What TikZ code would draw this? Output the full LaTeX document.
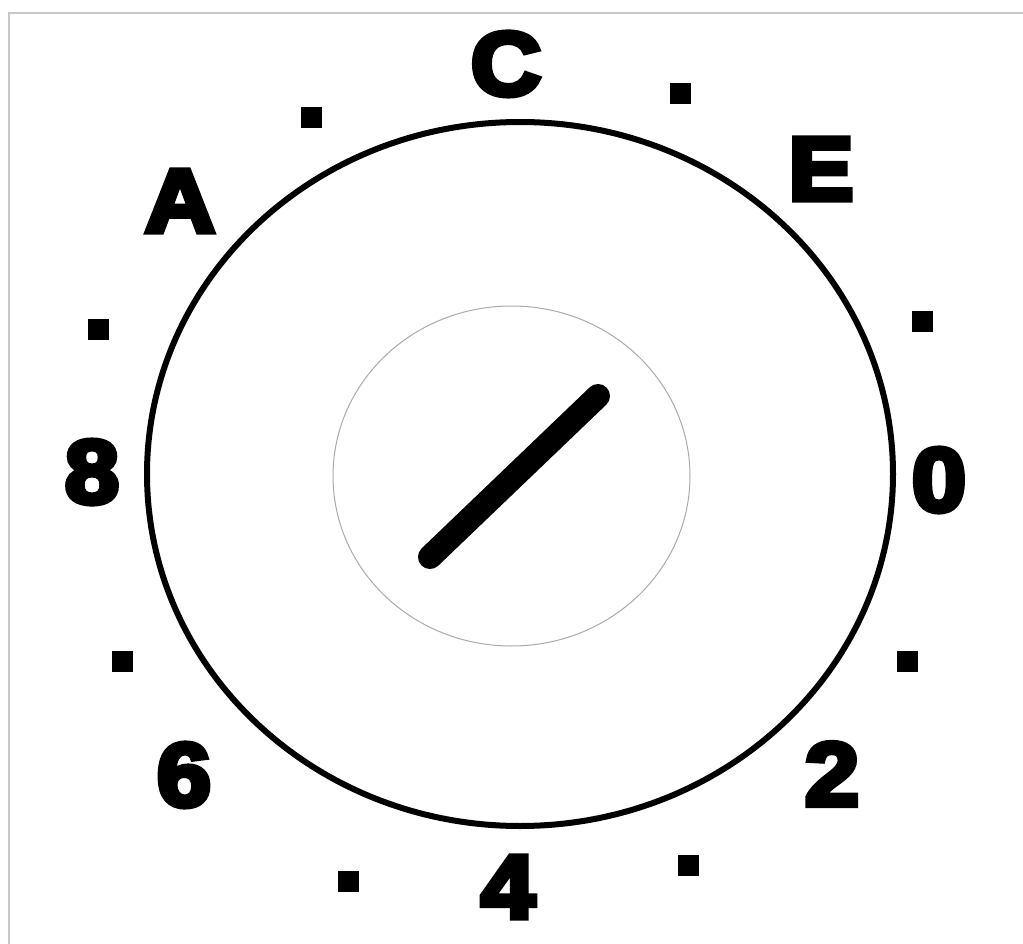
\documentclass[tikz,border=0pt]{standalone}
\usepackage{fontspec}
\newfontfamily\heavyfont[FakeBold=6]{Liberation Sans Bold}
\begin{document}
\begin{tikzpicture}[x=1pt,y=-1pt,
  lbl/.style={inner sep=0pt,xscale=1.08,transform shape,font=\heavyfont\fontsize{90}{90}\selectfont},
  tick/.style={fill=black,inner sep=0pt,minimum size=21pt,draw=none},
  frameline/.style={draw={rgb,255:red,200;green,200;blue,200},line width=2pt}]
\useasboundingbox (0,0) rectangle (1023,944);
\fill[white] (0,0) rectangle (1023,944);
\draw[frameline] (9,944) -- (9,13) -- (1023,13);
% dial
\draw[line width=6pt] (520,474) ellipse [x radius=373, y radius=352];
\draw[line width=1pt,draw={rgb,255:red,170;green,170;blue,170}] (511.5,476) ellipse [x radius=178.5, y radius=170];
% needle
\coordinate (n1) at (430,557);
\coordinate (n2) at (598,396);
\draw[line width=24pt,line cap=round] (n1) -- (n2);
% labels
\node[lbl] (lC) at (506,64) {C};
\node[lbl] (lE) at (821,169) {E};
\node[lbl] (l0) at (939,480) {0};
\node[lbl] (l2) at (832,774) {2};
\node[lbl] (l4) at (508,887) {4};
\node[lbl] (l6) at (184,775) {6};
\node[lbl] (l8) at (92,472) {8};
\node[lbl] (lA) at (180,201) {A};
% ticks
\node[tick] (t1) at (311,118) {};
\node[tick] (t2) at (680,94) {};
\node[tick] (t3) at (922,321) {};
\node[tick] (t4) at (907.5,661) {};
\node[tick] (t5) at (688.5,865) {};
\node[tick] (t6) at (348.5,881) {};
\node[tick] (t7) at (122,661) {};
\node[tick] (t8) at (98,329) {};
\end{tikzpicture}
\end{document}
